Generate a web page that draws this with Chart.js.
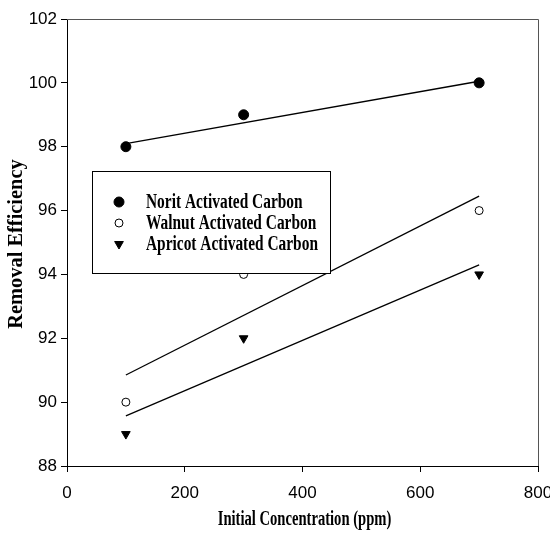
<!DOCTYPE html>
<html>
<head>
<meta charset="utf-8">
<script src="https://cdn.jsdelivr.net/npm/chart.js@4"></script>
<style>
  html, body { margin: 0; padding: 0; background: #fff; }
  #wrap { width: 550px; height: 539px; }
</style>
</head>
<body>
<div id="wrap"><canvas id="removalChart"></canvas></div>
<script>
// data
const concentrations = [100, 300, 700];
const noritValues = [98, 99, 100];
const walnutValues = [90, 94, 96];
const apricotValues = [89, 92, 94];
// trend line end points (x = 100 and x = 700)
const fitX = [100, 700];
const noritFit = [98.1, 100.05];
const walnutFit = [90.85, 96.45];
const apricotFit = [89.57, 94.3];

const seriesNames = ["Norit Activated Carbon", "Walnut Activated Carbon", "Apricot Activated Carbon"];
const xTitle = "Initial Concentration (ppm)";
const yTitle = "Removal Efficiency";

const toPoints = (xs, ys) => xs.map((x, i) => ({ x: x, y: ys[i] }));

const serif = "'Liberation Serif', 'Times New Roman', serif";

// draws the frame, the squeezed serif titles and the boxed legend
const decorations = {
    id: "decorations",
    afterDatasetsDraw(chart) {
        const ctx = chart.ctx;
        const a = chart.chartArea;
        ctx.save();

        // top and right frame lines
        ctx.strokeStyle = "#555";
        ctx.lineWidth = 1;
        ctx.beginPath();
        ctx.moveTo(a.left, a.top + 0.5);
        ctx.lineTo(a.right + 0.5, a.top + 0.5);
        ctx.lineTo(a.right + 0.5, a.bottom);
        ctx.stroke();

        // legend box (white, covers what lies under it)
        const box = { left: 92, top: 171, right: 330, bottom: 273 };
        ctx.fillStyle = "#fff";
        ctx.fillRect(box.left, box.top, box.right - box.left, box.bottom - box.top);
        ctx.strokeStyle = "#000";
        ctx.strokeRect(box.left + 0.5, box.top + 0.5, box.right - box.left, box.bottom - box.top);

        const rows = [202, 223, 244];
        chart.data.datasets.slice(0, 3).forEach((ds, i) => {
            const cx = 119, cy = rows[i], r = ds.pointRadius;
            ctx.fillStyle = ds.pointBackgroundColor;
            ctx.strokeStyle = "#000";
            ctx.lineWidth = 1;
            ctx.beginPath();
            if (ds.pointStyle === "circle") {
                ctx.arc(cx, cy, r, 0, Math.PI * 2);
            } else {
                ctx.moveTo(cx - r * 0.87, cy - r * 0.5);
                ctx.lineTo(cx + r * 0.87, cy - r * 0.5);
                ctx.lineTo(cx, cy + r);
                ctx.closePath();
            }
            ctx.fill();
            ctx.stroke();

            ctx.save();
            ctx.translate(146, cy + 1);
            ctx.scale(0.77, 1);
            ctx.fillStyle = "#000";
            ctx.font = "bold 20px " + serif;
            ctx.textBaseline = "middle";
            ctx.textAlign = "left";
            ctx.fillText(ds.label, 0, 0);
            ctx.restore();
        });

        // x axis title
        ctx.save();
        ctx.translate((a.left + a.right) / 2 + 2, 520);
        ctx.scale(0.73, 1);
        ctx.fillStyle = "#000";
        ctx.font = "bold 20px " + serif;
        ctx.textAlign = "center";
        ctx.textBaseline = "middle";
        ctx.fillText(xTitle, 0, 0);
        ctx.restore();

        // y axis title
        ctx.save();
        ctx.translate(17, 244);
        ctx.rotate(-Math.PI / 2);
        ctx.scale(1.02, 1);
        ctx.fillStyle = "#000";
        ctx.font = "bold 20px " + serif;
        ctx.textAlign = "center";
        ctx.textBaseline = "middle";
        ctx.fillText(yTitle, 0, 0);
        ctx.restore();

        ctx.restore();
    }
};

const tickFont = { family: "'Liberation Sans Narrow', 'Arial Narrow', 'Liberation Sans', Arial, sans-serif", size: 17 };

new Chart(document.getElementById("removalChart"), {
    type: "scatter",
    data: {
        datasets: [
            {
                label: seriesNames[0],
                data: toPoints(concentrations, noritValues),
                pointStyle: "circle",
                pointRadius: 5,
                pointBackgroundColor: "#000",
                pointBorderColor: "#000",
                borderWidth: 1
            },
            {
                label: seriesNames[1],
                data: toPoints(concentrations, walnutValues),
                pointStyle: "circle",
                pointRadius: 4,
                pointBackgroundColor: "#fff",
                pointBorderColor: "#000",
                borderWidth: 1
            },
            {
                label: seriesNames[2],
                data: toPoints(concentrations, apricotValues),
                pointStyle: "triangle",
                rotation: 180,
                pointRadius: 5,
                pointBackgroundColor: "#000",
                pointBorderColor: "#000",
                borderWidth: 1
            },
            {
                label: "Norit fit",
                type: "line",
                data: toPoints(fitX, noritFit),
                borderColor: "#000",
                borderWidth: 1.3,
                pointRadius: 0,
                showLine: true
            },
            {
                label: "Walnut fit",
                type: "line",
                data: toPoints(fitX, walnutFit),
                borderColor: "#000",
                borderWidth: 1.3,
                pointRadius: 0,
                showLine: true
            },
            {
                label: "Apricot fit",
                type: "line",
                data: toPoints(fitX, apricotFit),
                borderColor: "#000",
                borderWidth: 1.3,
                pointRadius: 0,
                showLine: true
            }
        ]
    },
    options: {
        responsive: true,
        maintainAspectRatio: false,
        animation: false,
        layout: { padding: { top: 19, right: 12, left: 0, bottom: 0 } },
        plugins: {
            legend: { display: false },
            tooltip: { enabled: false }
        },
        scales: {
            x: {
                type: "linear",
                min: 0,
                max: 800,
                ticks: { stepSize: 200, color: "#000", font: tickFont, padding: 11 },
                grid: { display: true, drawOnChartArea: false, drawTicks: true, tickLength: 6, color: "#000" },
                border: { display: true, color: "#000", width: 1 },
                afterFit: scale => {
                    scale.height = 73;
                    scale.paddingLeft = 0;
                    scale.paddingRight = 0;
                }
            },
            y: {
                min: 88,
                max: 102,
                ticks: { stepSize: 2, color: "#000", font: tickFont, padding: 4 },
                grid: { display: true, drawOnChartArea: false, drawTicks: true, tickLength: 6, color: "#000" },
                border: { display: true, color: "#000", width: 1 },
                afterFit: scale => {
                    scale.width = 67;
                    scale.paddingTop = 0;
                    scale.paddingBottom = 0;
                }
            }
        }
    },
    plugins: [decorations]
});
</script>
</body>
</html>
